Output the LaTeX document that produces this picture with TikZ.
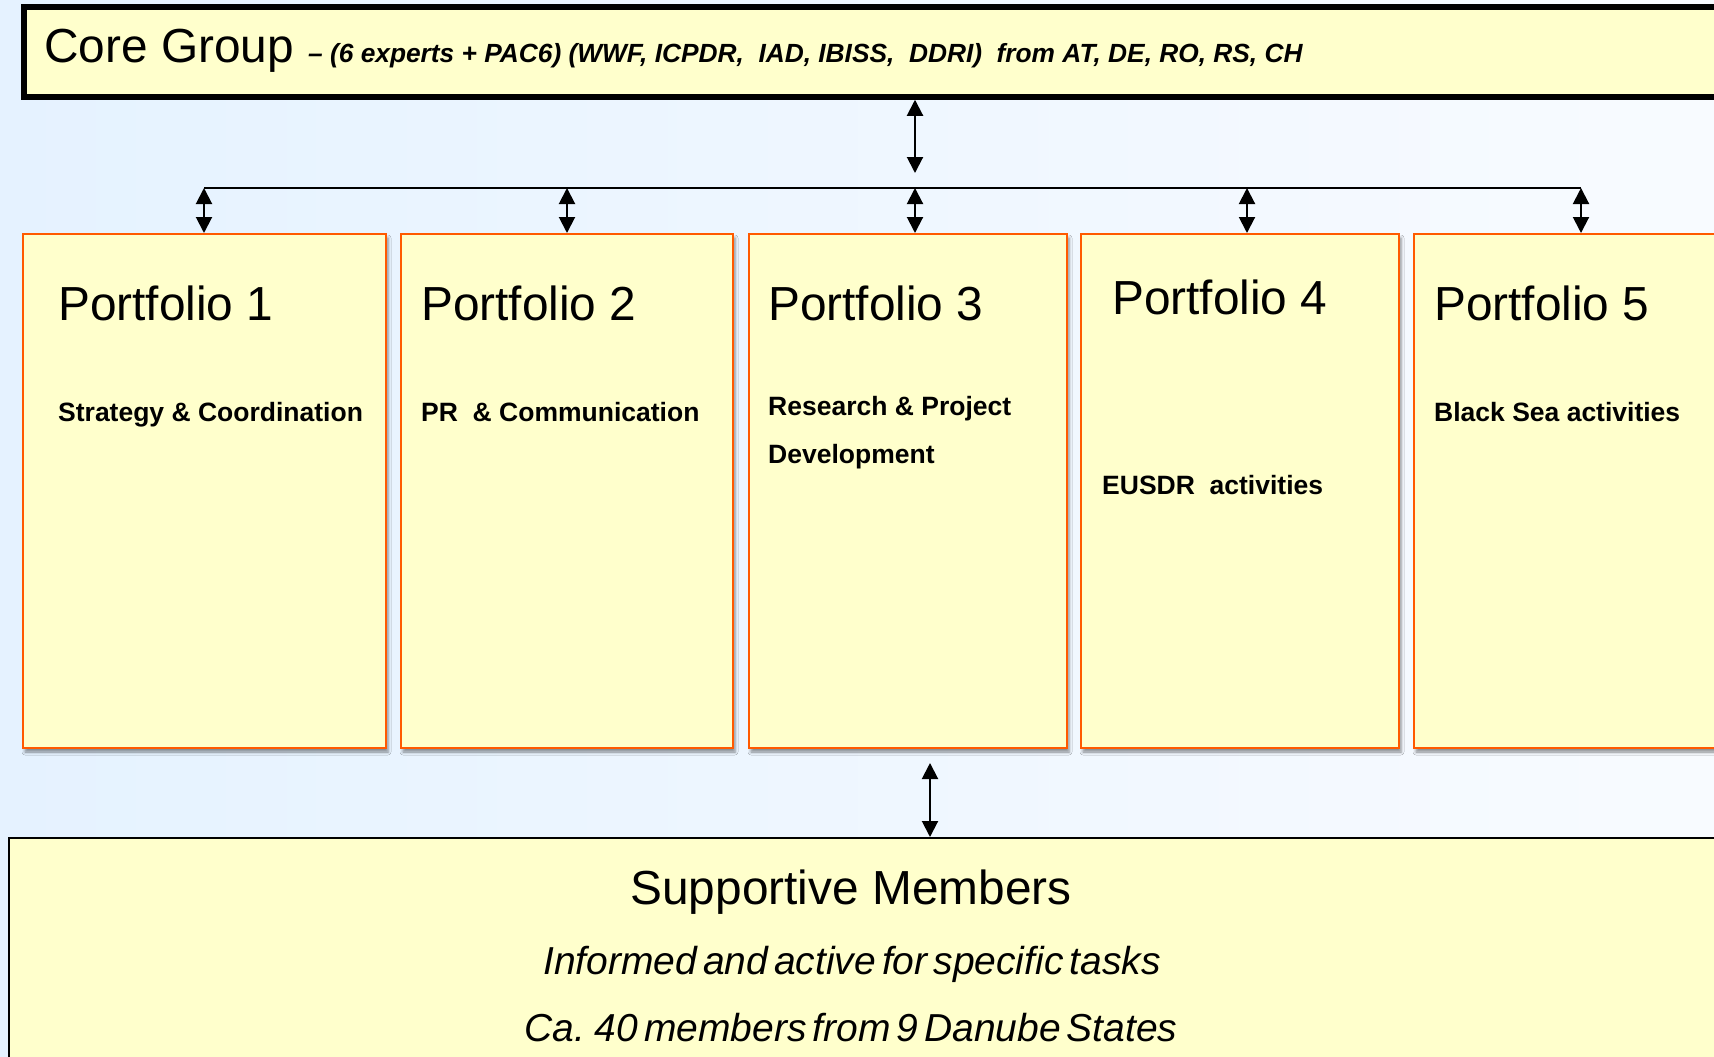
\documentclass[tikz,border=0pt]{standalone}
\usepackage{fontspec}
\setmainfont{Liberation Sans}
\newfontfamily\condfont[WordSpace=0.55]{Liberation Sans}
\usetikzlibrary{arrows.meta,shadows.blur}
\definecolor{boxfill}{RGB}{255,255,204}
\definecolor{boxedge}{RGB}{255,90,0}
\definecolor{bgleft}{RGB}{229,242,255}
\definecolor{bgright}{RGB}{248,251,255}
\begin{document}
\begin{tikzpicture}[x=1pt,y=-1pt,
  >={Triangle[width=16pt,length=16pt]},
  portbox/.style={draw=boxedge, line width=2pt, fill=boxfill, minimum width=#1,
    minimum height=514pt, inner sep=0pt,
    blur shadow={shadow xshift=2pt, shadow yshift=-4pt, shadow opacity=45, shadow blur radius=3pt}},
  bigtext/.style={anchor=base west, inner sep=0pt, font=\fontsize{47.8}{56}\selectfont},
  subtext/.style={anchor=base west, inner sep=0pt, font=\fontsize{26.5}{31}\selectfont\bfseries},
  itline/.style={anchor=base, inner sep=0pt, font=\fontsize{39}{46}\selectfont\condfont\itshape},
  link/.style={<->, line width=2pt},
  bus/.style={line width=2pt}
  ]
\useasboundingbox (0,0) rectangle (1714,1057);
\clip (0,0) rectangle (1714,1057);
\fill[left color=bgleft, right color=bgright] (0,0) rectangle (1714,1057);

% core group
\node[draw=black, line width=5.5pt, fill=boxfill, minimum width=1736pt, minimum height=90pt, inner sep=0pt] (core) at (891.75,52) {};
\node[bigtext] (coretitle) at (44,63) {Core Group};
\node[subtext, font=\fontsize{26.3}{31}\selectfont\bfseries\itshape] (coresub) at (308,63)
  {– (6 experts + PAC6) (WWF, ICPDR,\ \ IAD, IBISS,\ \ DDRI)\ \ from AT, DE, RO, RS, CH};

% portfolios
\node[portbox=363pt] (p1) at (204.5,491) {};
\node[portbox=332pt] (p2) at (567,491) {};
\node[portbox=318pt] (p3) at (908,491) {};
\node[portbox=318pt] (p4) at (1240,491) {};
\node[portbox=334pt] (p5) at (1581,491) {};

\node[bigtext] (t1) at (58,320) {Portfolio 1};
\node[bigtext] (t2) at (421,320) {Portfolio 2};
\node[bigtext] (t3) at (768,320) {Portfolio 3};
\node[bigtext] (t4) at (1112,314) {Portfolio 4};
\node[bigtext] (t5) at (1434,320) {Portfolio 5};

\node[subtext] (s1) at (58,421) {Strategy \& Coordination};
\node[subtext] (s2) at (421,421) {PR\ \ \& Communication};
\node[subtext] (s3) at (768,415) {Research \& Project};
\node[subtext] (s3b) at (768,463) {Development};
\node[subtext] (s4) at (1102,494) {EUSDR\ \ activities};
\node[subtext] (s5) at (1434,421) {Black Sea activities};

% bus and arrows
\coordinate (b1) at (204,188);
\coordinate (b2) at (567,188);
\coordinate (b3) at (915,188);
\coordinate (b4) at (1247,188);
\coordinate (b5) at (1581,188);
\draw[bus] (b1) -- (b5);
\draw[link] (core.south -| b3) -- ([yshift=15pt]b3);
\draw[link] (b1) -- (b1 |- p1.north);
\draw[link] (b2) -- (b2 |- p2.north);
\draw[link] (b3) -- (b3 |- p3.north);
\draw[link] (b4) -- (b4 |- p4.north);
\draw[link] (b5) -- (b5 |- p5.north);

% supportive members
\node[draw=black, line width=2pt, fill=boxfill, minimum width=1751pt, minimum height=262pt, inner sep=0pt] (supp) at (884.5,969) {};
\coordinate (sa) at (930,763);
\draw[link] (sa) -- (sa |- supp.north);
\node[bigtext, anchor=base] (supptitle) at (851,904) {Supportive Members};
\node[itline] (supp1) at (852,974) {Informed and active for specific tasks};
\node[itline] (supp2) at (851,1041) {Ca. 40 members from 9 Danube States};
\end{tikzpicture}
\end{document}
